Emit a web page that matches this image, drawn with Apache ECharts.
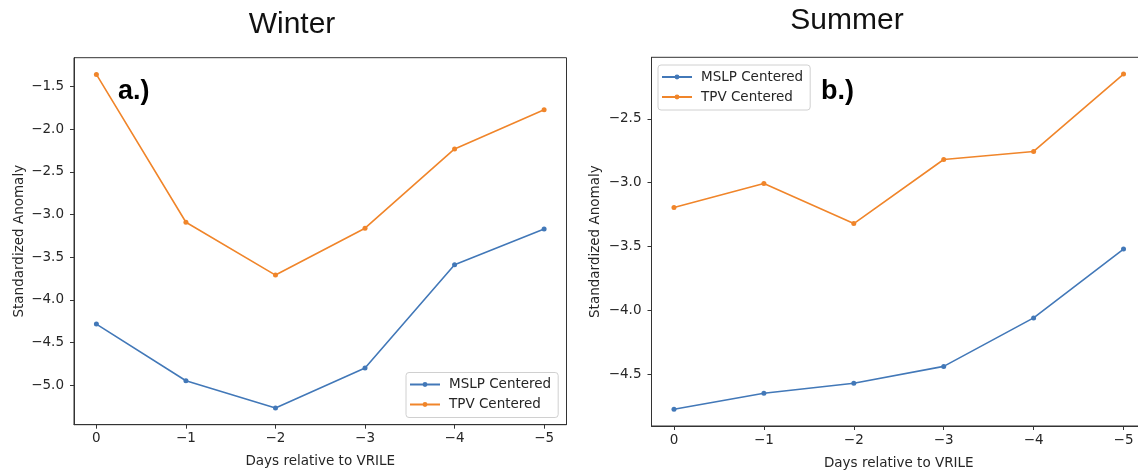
<!DOCTYPE html>
<html>
<head>
<meta charset="utf-8">
<script src="https://cdn.jsdelivr.net/npm/echarts@6/dist/echarts.min.js"></script>
<style>
  html, body { margin: 0; padding: 0; background: #fff; }
  #chart { width: 1138px; height: 471px; }
</style>
</head>
<body>
<div id="chart"></div>
<script>
// Days relative to the VRILE event
const days = [0, -1, -2, -3, -4, -5];

// Winter composites
const winterMSLP = [-4.285, -4.95, -5.27, -4.80, -3.59, -3.17];
const winterTPV = [-1.355, -3.09, -3.71, -3.16, -2.23, -1.77];
const winterTicks = [-5.0, -4.5, -4.0, -3.5, -3.0, -2.5, -2.0, -1.5];

// Summer composites
const summerMSLP = [-4.776, -4.65, -4.572, -4.44, -4.06, -3.52];
const summerTPV = [-3.194, -3.006, -3.32, -2.818, -2.755, -2.148];
const summerTicks = [-4.5, -4.0, -3.5, -3.0, -2.5];

const seriesNames = ['MSLP Centered', 'TPV Centered'];
const panelTitles = ['Winter', 'Summer'];
const panelTags = ['a.)', 'b.)'];
const xName = 'Days relative to VRILE';
const yName = 'Standardized Anomaly';

const BLUE = '#4278b8';
const ORANGE = '#f0852a';
const INK = '#262626';
const FONT = 'DejaVu Sans';

const minus = s => String(s).replace('-', '\u2212');

// autoscale limits with 5% padding on each side
function limits(arrs) {
  const all = [].concat(...arrs);
  const lo = Math.min(...all), hi = Math.max(...all);
  const pad = (hi - lo) * 0.05;
  return [lo - pad, hi + pad];
}

function xAxis(gridIndex) {
  return {
    type: 'value', gridIndex, inverse: true,
    min: Math.min(...days) - 0.25, max: Math.max(...days) + 0.25,
    name: xName, nameLocation: 'middle', nameGap: 30,
    nameTextStyle: { fontFamily: FONT, fontSize: 13.5, color: INK },
    axisLine: { show: true, onZero: false, lineStyle: { color: '#333', width: 1 } },
    axisTick: { show: true, length: 4, customValues: days, lineStyle: { color: '#333' } },
    axisLabel: { customValues: days, margin: 7, fontFamily: FONT, fontSize: 13.5, color: INK,
                 formatter: v => minus(v) },
    splitLine: { show: false }
  };
}

function yAxis(gridIndex, lim, ticks, gap) {
  return {
    type: 'value', gridIndex, min: lim[0], max: lim[1],
    name: yName, nameLocation: 'middle', nameGap: gap, nameRotate: 90,
    nameTextStyle: { fontFamily: FONT, fontSize: 13.5, color: INK },
    axisLine: { show: true, onZero: false, lineStyle: { color: '#333', width: 1 } },
    axisTick: { show: true, length: 4, customValues: ticks, lineStyle: { color: '#333' } },
    axisLabel: { customValues: ticks, margin: 10, fontFamily: FONT, fontSize: 13.5, color: INK,
                 formatter: v => minus(v.toFixed(1)) },
    splitLine: { show: false }
  };
}

function line(name, vals, color, idx) {
  return {
    name, type: 'line', xAxisIndex: idx, yAxisIndex: idx,
    data: days.map((d, i) => [d, vals[i]]),
    symbol: 'circle', symbolSize: 5,
    lineStyle: { color, width: 1.6 },
    itemStyle: { color },
    emphasis: { disabled: true },
    animation: false
  };
}

function legend(left, top) {
  return {
    data: seriesNames, orient: 'vertical', left, top,
    padding: [5, 7, 6, 3], itemGap: 6, itemWidth: 30, itemHeight: 6,
    textStyle: { fontFamily: FONT, fontSize: 13.5, color: INK, lineHeight: 14, padding: [0, 0, 0, 4] },
    backgroundColor: 'rgba(255,255,255,0.85)', borderColor: '#d0d0d0', borderWidth: 1, borderRadius: 3,
    selectedMode: false
  };
}

const chart = echarts.init(document.getElementById('chart'), null, { renderer: 'canvas' });
chart.setOption({
  backgroundColor: '#fff',
  animation: false,
  grid: [
    { left: 74, width: 492.5, top: 57.7, height: 367, show: true, borderColor: '#333', borderWidth: 1,
      containLabel: false, outerBoundsMode: 'none' },
    { left: 651.5, width: 494.5, top: 57.3, height: 368.7, show: true, borderColor: '#333', borderWidth: 1,
      containLabel: false, outerBoundsMode: 'none' }
  ],
  xAxis: [xAxis(0), xAxis(1)],
  yAxis: [
    yAxis(0, limits([winterMSLP, winterTPV]), winterTicks, 48),
    yAxis(1, limits([summerMSLP, summerTPV]), summerTicks, 49)
  ],
  legend: [legend(406, 372.5), legend(658, 65)],
  series: [
    line(seriesNames[0], winterMSLP, BLUE, 0),
    line(seriesNames[1], winterTPV, ORANGE, 0),
    line(seriesNames[0], summerMSLP, BLUE, 1),
    line(seriesNames[1], summerTPV, ORANGE, 1)
  ],
  graphic: [
    { type: 'text', x: 292, y: 24.5, style: { text: panelTitles[0], fill: '#111',
      font: '30px "Liberation Sans"', align: 'center', verticalAlign: 'middle' } },
    { type: 'text', x: 847, y: 20.5, style: { text: panelTitles[1], fill: '#111',
      font: '30px "Liberation Sans"', align: 'center', verticalAlign: 'middle' } },
    { type: 'text', x: 118, y: 92, style: { text: panelTags[0], fill: '#000',
      font: 'bold 27px "Liberation Sans"', align: 'left', verticalAlign: 'middle' } },
    { type: 'text', x: 821, y: 92, style: { text: panelTags[1], fill: '#000',
      font: 'bold 27px "Liberation Sans"', align: 'left', verticalAlign: 'middle' } }
  ]
});
</script>
</body>
</html>
